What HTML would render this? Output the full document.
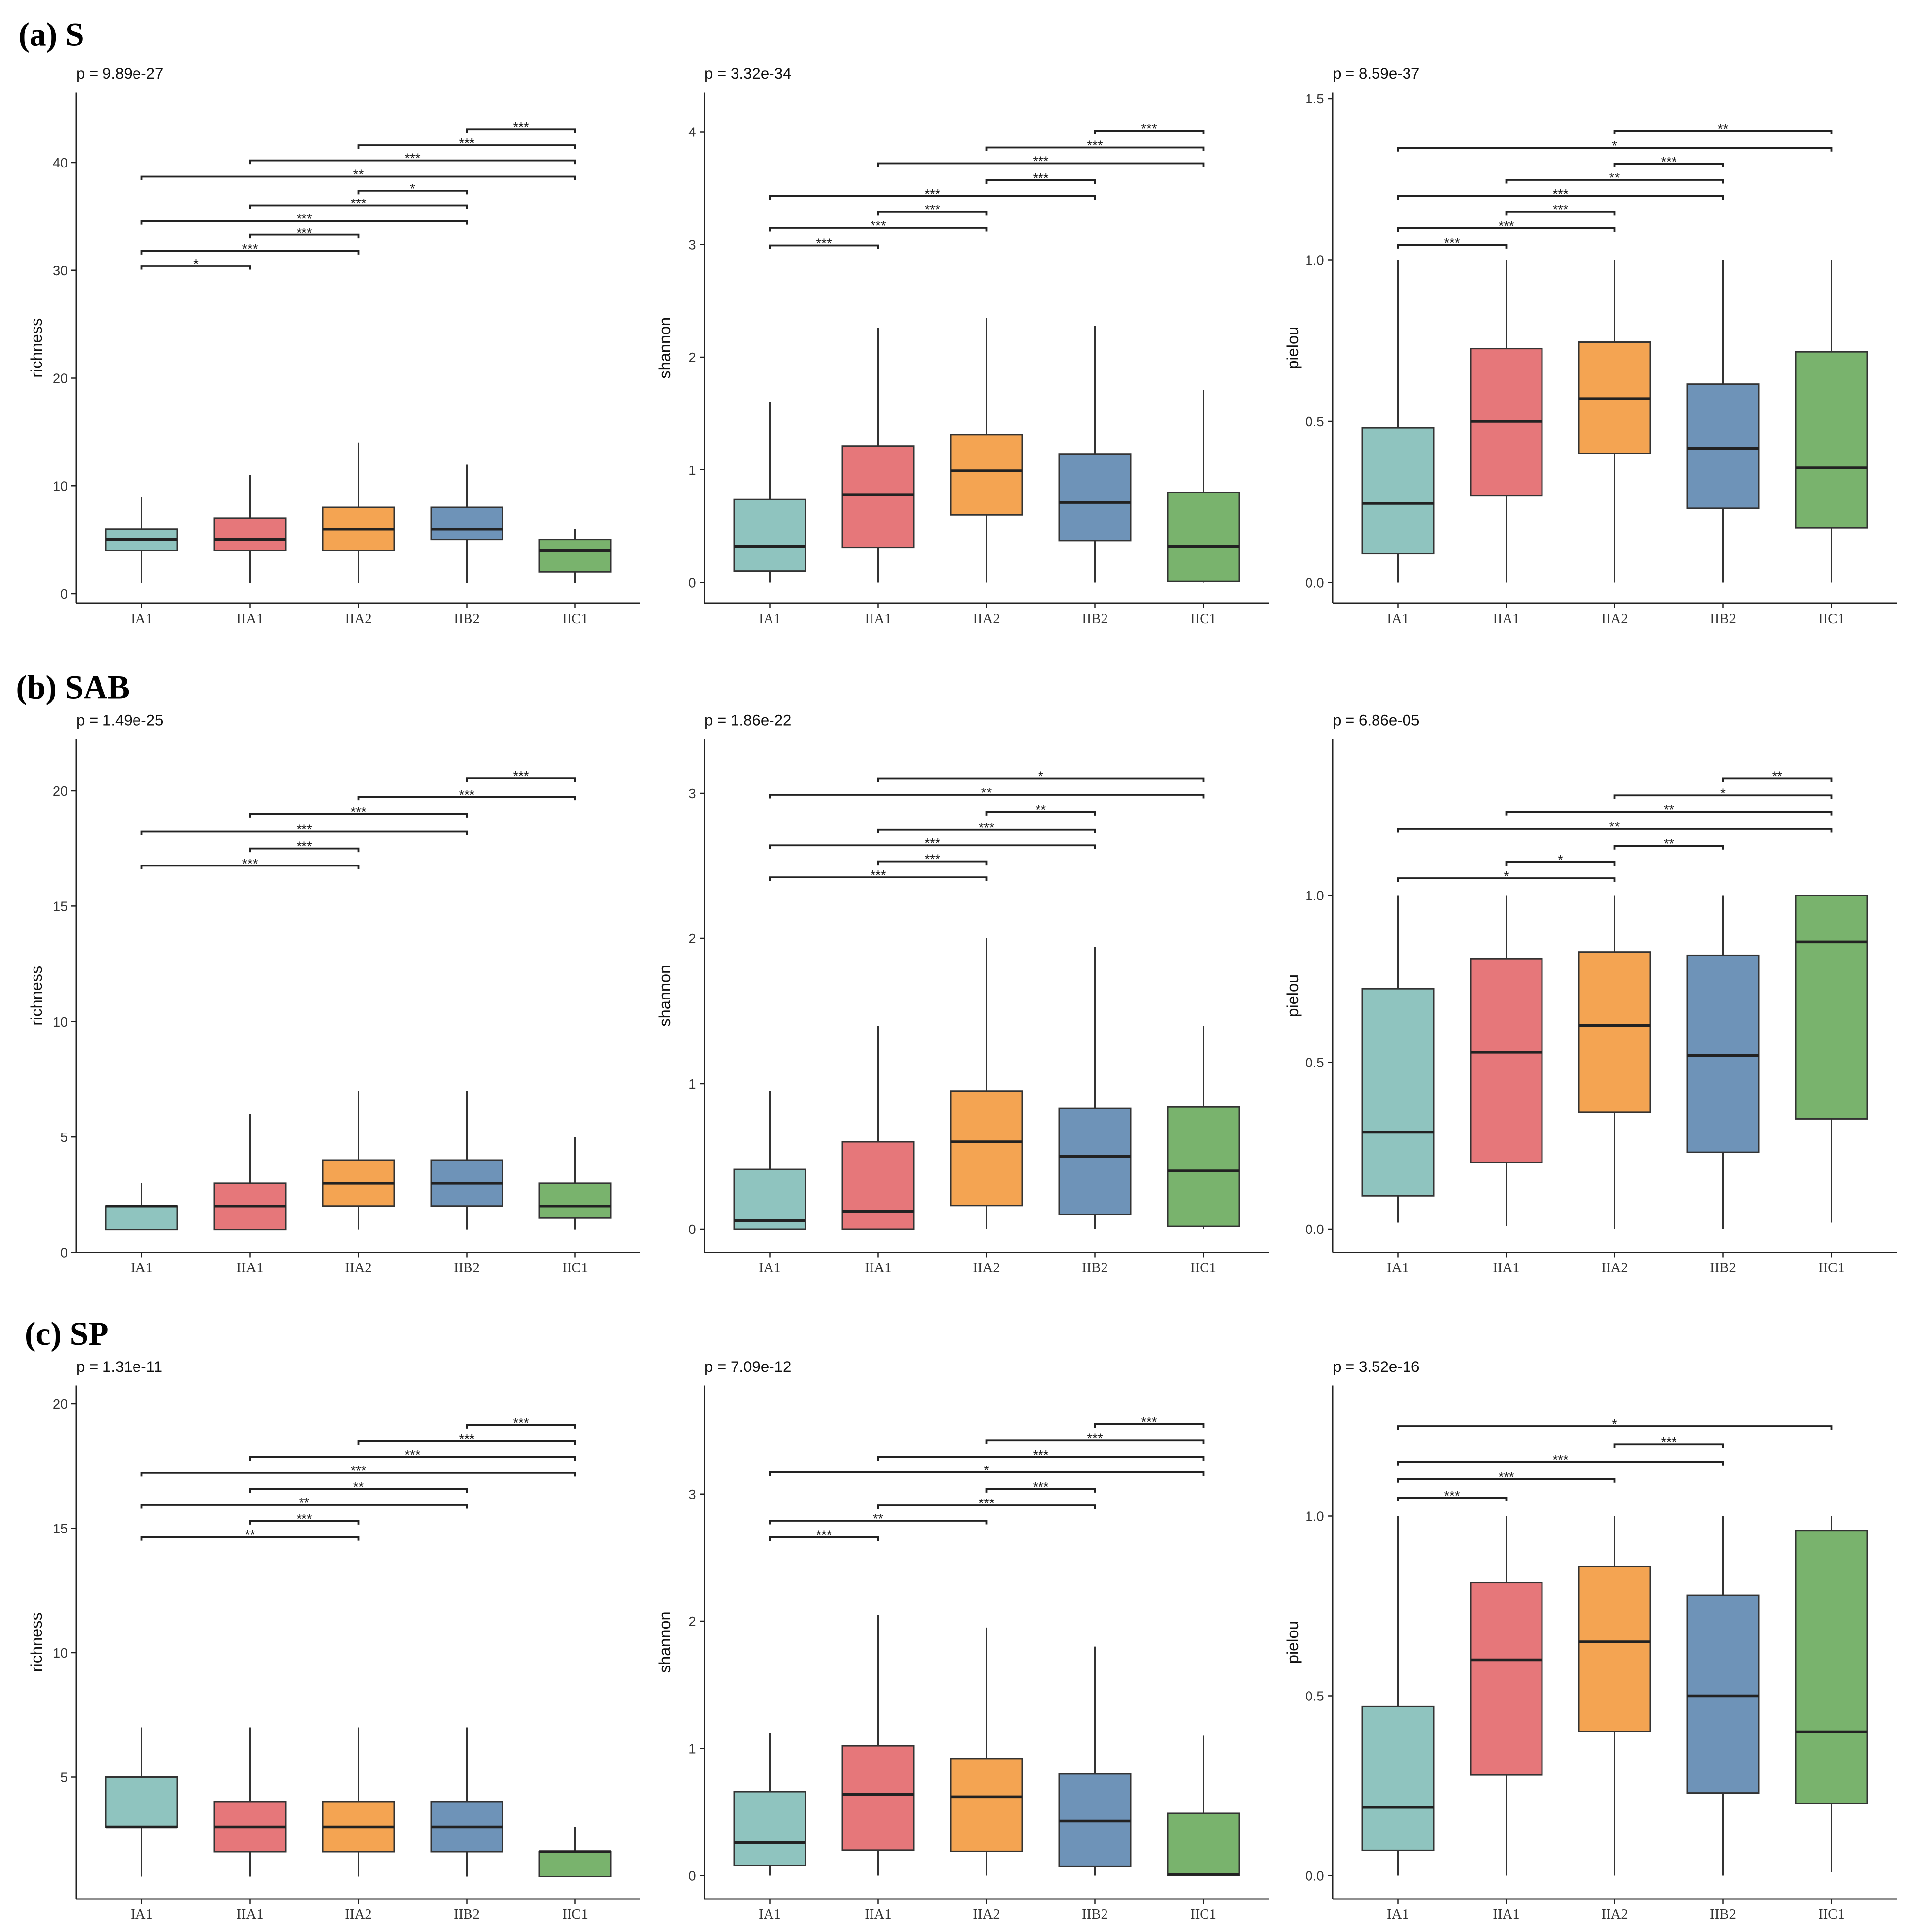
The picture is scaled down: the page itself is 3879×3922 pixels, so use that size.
<!DOCTYPE html>
<html><head><meta charset="utf-8">
<style>
html,body{margin:0;padding:0;background:#fff;}
svg{display:block;}
text{font-family:"Liberation Sans",sans-serif;}
</style></head>
<body>
<svg id="fig" xmlns="http://www.w3.org/2000/svg" width="3879" height="3922" viewBox="0 0 1551.6 1568.8">
<rect width="1551.6" height="1568.8" fill="#fff"/>
<text x="15" y="37" font-weight="bold" font-size="27" style="font-family:'Liberation Serif',serif">(a) S</text>
<text x="13" y="567" font-weight="bold" font-size="27" style="font-family:'Liberation Serif',serif">(b) SAB</text>
<text x="20" y="1092" font-weight="bold" font-size="27" style="font-family:'Liberation Serif',serif">(c) SP</text>
</svg>
<script>
const categories = ["IA1","IIA1","IIA2","IIB2","IIC1"];
const colors = ["#8fc4bf","#e6777a","#f4a452","#6e93b8","#79b36d"];
const pvalues = ["p = 9.89e-27","p = 3.32e-34","p = 8.59e-37","p = 1.49e-25","p = 1.86e-22","p = 6.86e-05","p = 1.31e-11","p = 7.09e-12","p = 3.52e-16"];
const yTitles = ["richness","shannon","pielou","richness","shannon","pielou","richness","shannon","pielou"];
// box stats: [min,q1,median,q3,max]
const boxA1 = [[1,4,5,6,9],[1,4,5,7,11],[1,4,6,8,14],[1,5,6,8,12],[1,2,4,5,6]];
const boxA2 = [[0,0.1,0.32,0.74,1.6],[0,0.31,0.78,1.21,2.26],[0,0.6,0.99,1.31,2.35],[0,0.37,0.71,1.14,2.28],[0,0.01,0.32,0.8,1.71]];
const boxA3 = [[0,0.09,0.245,0.48,1],[0,0.27,0.5,0.725,1],[0,0.4,0.57,0.745,1],[0,0.23,0.415,0.615,1],[0,0.17,0.355,0.715,1]];
const boxB1 = [[1,1,2,2,3],[1,1,2,3,6],[1,2,3,4,7],[1,2,3,4,7],[1,1.5,2,3,5]];
const boxB2 = [[0,0,0.06,0.41,0.95],[0,0,0.12,0.6,1.4],[0,0.16,0.6,0.95,2.0],[0,0.1,0.5,0.83,1.94],[0,0.02,0.4,0.84,1.4]];
const boxB3 = [[0.02,0.1,0.29,0.72,1],[0.01,0.2,0.53,0.81,1],[0,0.35,0.61,0.83,1],[0,0.23,0.52,0.82,1],[0.02,0.33,0.86,1,1]];
const boxC1 = [[1,3,3,5,7],[1,2,3,4,7],[1,2,3,4,7],[1,2,3,4,7],[1,1,2,2,3]];
const boxC2 = [[0,0.08,0.26,0.66,1.12],[0,0.2,0.64,1.02,2.05],[0,0.19,0.62,0.92,1.95],[0,0.07,0.43,0.8,1.8],[0,0,0.01,0.49,1.1]];
const boxC3 = [[0,0.07,0.19,0.47,1],[0,0.28,0.6,0.815,1],[0,0.4,0.65,0.86,1],[0,0.23,0.5,0.78,1],[0.01,0.2,0.4,0.96,1]];
// significance brackets: [fromIndex,toIndex,yValue,label]
const sigA1 = [[3,4,43.1,"***"],[2,4,41.6,"***"],[1,4,40.2,"***"],[0,4,38.7,"**"],[2,3,37.4,"*"],[1,3,36.0,"***"],[0,3,34.6,"***"],[1,2,33.3,"***"],[0,2,31.8,"***"],[0,1,30.4,"*"]];
const sigA2 = [[3,4,4.01,"***"],[2,4,3.86,"***"],[1,4,3.72,"***"],[2,3,3.57,"***"],[0,3,3.43,"***"],[1,2,3.29,"***"],[0,2,3.15,"***"],[0,1,2.99,"***"]];
const sigA3 = [[2,4,1.40,"**"],[0,4,1.347,"*"],[2,3,1.298,"***"],[1,3,1.248,"**"],[0,3,1.198,"***"],[1,2,1.149,"***"],[0,2,1.099,"***"],[0,1,1.046,"***"]];
const sigB1 = [[3,4,20.53,"***"],[2,4,19.73,"***"],[1,3,18.99,"***"],[0,3,18.24,"***"],[1,2,17.49,"***"],[0,2,16.75,"***"]];
const sigB2 = [[1,4,3.10,"*"],[0,4,2.99,"**"],[2,3,2.87,"**"],[1,3,2.75,"***"],[0,3,2.64,"***"],[1,2,2.53,"***"],[0,2,2.42,"***"]];
const sigB3 = [[3,4,1.35,"**"],[2,4,1.30,"*"],[1,4,1.25,"**"],[0,4,1.20,"**"],[2,3,1.148,"**"],[1,2,1.10,"*"],[0,2,1.051,"*"]];
const sigC1 = [[3,4,19.16,"***"],[2,4,18.5,"***"],[1,4,17.87,"***"],[0,4,17.23,"***"],[1,3,16.58,"**"],[0,3,15.94,"**"],[1,2,15.3,"***"],[0,2,14.65,"**"]];
const sigC2 = [[3,4,3.55,"***"],[2,4,3.42,"***"],[1,4,3.29,"***"],[0,4,3.17,"*"],[2,3,3.04,"***"],[1,3,2.91,"***"],[0,2,2.79,"**"],[0,1,2.66,"***"]];
const sigC3 = [[0,4,1.25,"*"],[2,3,1.199,"***"],[0,3,1.151,"***"],[0,2,1.103,"***"],[0,1,1.051,"***"]];
// tick values and labels
const ticksA1 = [0,10,20,30,40], tickLabA1 = ["0","10","20","30","40"];
const ticksA2 = [0,1,2,3,4], tickLabA2 = ["0","1","2","3","4"];
const ticksA3 = [0,0.5,1,1.5], tickLabA3 = ["0.0","0.5","1.0","1.5"];
const ticksB1 = [0,5,10,15,20], tickLabB1 = ["0","5","10","15","20"];
const ticksB2 = [0,1,2,3], tickLabB2 = ["0","1","2","3"];
const ticksB3 = [0,0.5,1], tickLabB3 = ["0.0","0.5","1.0"];
const ticksC1 = [5,10,15,20], tickLabC1 = ["5","10","15","20"];
const ticksC2 = [0,1,2,3], tickLabC2 = ["0","1","2","3"];
const ticksC3 = [0,0.5,1], tickLabC3 = ["0.0","0.5","1.0"];

const boxes=[boxA1,boxA2,boxA3,boxB1,boxB2,boxB3,boxC1,boxC2,boxC3];
const sigs=[sigA1,sigA2,sigA3,sigB1,sigB2,sigB3,sigC1,sigC2,sigC3];
const ticks=[ticksA1,ticksA2,ticksA3,ticksB1,ticksB2,ticksB3,ticksC1,ticksC2,ticksC3];
const tickLabs=[tickLabA1,tickLabA2,tickLabA3,tickLabB1,tickLabB2,tickLabB3,tickLabC1,tickLabC2,tickLabC3];
const rowLayout=[{top:75,bot:490},{top:600,bot:1017},{top:1125,bot:1542}];
const colX=[62,572,1082];
const scaleLayout=[[482,8.75],[473,91.5],[473,262],[1017,18.75],[998,118],[998,271],[1544,20.2],[1523,103.3],[1523,292]];
const NS="http://www.w3.org/2000/svg";
const svg=document.getElementById('fig');
function mk(tag,attrs,parent){const e=document.createElementNS(NS,tag);for(const k in attrs)e.setAttribute(k,attrs[k]);(parent||svg).appendChild(e);return e;}
for(let p=0;p<9;p++){
  const r=Math.floor(p/3), c=p%3;
  const ax=colX[c], top=rowLayout[r].top, bot=rowLayout[r].bot, right=ax+458;
  const y0=scaleLayout[p][0], k=scaleLayout[p][1];
  const Y=v=>y0-v*k;
  const X=i=>ax+53+i*88;
  const g=mk('g',{});
  
  
  const pt=mk('text',{x:ax,y:top-11,'font-size':12.5,fill:'#111'},g);pt.textContent=pvalues[p];
  
  
  const ya=mk('line',{x1:ax,y1:top,x2:ax,y2:bot,stroke:'#222','stroke-width':1.2},g);
  
  
  const xa=mk('line',{x1:ax,y1:bot,x2:right,y2:bot,stroke:'#222','stroke-width':1.2},g);
  
  
  const yt=mk('text',{x:0,y:0,'font-size':13,fill:'#111','text-anchor':'middle',transform:`translate(${ax-28},${(top+bot)/2}) rotate(-90)`},g);yt.textContent=yTitles[p];
  
  
  ticks[p].forEach((t,i)=>{
    mk('line',{x1:ax-4,y1:Y(t),x2:ax,y2:Y(t),stroke:'#222'},g);
    const tl=mk('text',{x:ax-7,y:Y(t)+4,'font-size':11,fill:'#333','text-anchor':'end'},g);tl.textContent=tickLabs[p][i];
    
    
  });
  categories.forEach((cat,i)=>{
    const x=X(i), b=boxes[p][i];
    mk('line',{x1:x,y1:bot,x2:x,y2:bot+4,stroke:'#222'},g);
    const xl=mk('text',{x:x,y:bot+16,'font-size':11.5,fill:'#333','text-anchor':'middle',style:"font-family:'Liberation Serif',serif"},g);xl.textContent=cat;
    
    
    const bg=mk('g',{},g);
    
    
    mk('line',{x1:x,y1:Y(b[0]),x2:x,y2:Y(b[4]),stroke:'#333','stroke-width':1.2},bg);
    mk('rect',{x:x-29,y:Y(b[3]),width:58,height:Math.max(0.5,Y(b[1])-Y(b[3])),fill:colors[i],stroke:'#333','stroke-width':1.2},bg);
    mk('line',{x1:x-29,y1:Y(b[2]),x2:x+29,y2:Y(b[2]),stroke:'#222','stroke-width':2.2},bg);
  });
  sigs[p].forEach(s=>{
    const x1=X(s[0]), x2=X(s[1]), y=Y(s[2]);
    const sg=mk('g',{},g);
    
    
    mk('path',{d:`M${x1},${y+3}V${y}H${x2}V${y+3}`,fill:'none',stroke:'#222','stroke-width':1.5},sg);
    const st=mk('text',{x:(x1+x2)/2,y:y+2,'font-size':11,fill:'#222','text-anchor':'middle'},sg);st.textContent=s[3];
  });
}
</script>
</body></html>
